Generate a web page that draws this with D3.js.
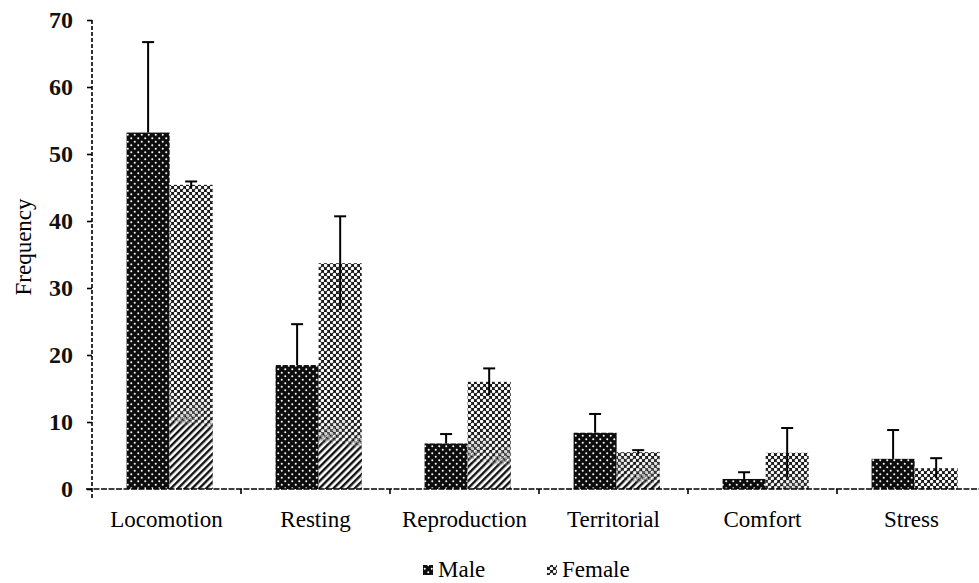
<!DOCTYPE html>
<html>
<head>
<meta charset="utf-8">
<script src="https://cdn.jsdelivr.net/npm/d3@7"></script>
<style>
body { margin: 0; background: #fff; }
svg, svg text { font-family: "Liberation Serif", "Times New Roman", serif; }
svg { display: block; }
</style>
</head>
<body>
<div class="behaviour-chart"></div>
<script>
const categories = ['Locomotion', 'Resting', 'Reproduction', 'Territorial', 'Comfort', 'Stress'];
const series = ['Male', 'Female'];
const maleValues = [53.2, 18.5, 6.8, 8.4, 1.5, 4.5];
const maleErrors = [13.5, 6.1, 1.4, 2.8, 1.0, 4.3];
const femaleValues = [45.4, 33.7, 16.0, 5.5, 5.4, 3.1];
const femaleErrors = [0.5, 7.0, 2.0, 0.3, 3.7, 1.5];
const yTicks = [0, 10, 20, 30, 40, 50, 60, 70];

const w = 979;
const h = 583;

const rows = [];
categories.forEach((c, i) => {
  rows.push({cat: c, key: 'Male', value: maleValues[i], err: maleErrors[i]});
  rows.push({cat: c, key: 'Female', value: femaleValues[i], err: femaleErrors[i]});
});

const svg = d3.select('.behaviour-chart')
  .append('svg')
  .attr('width', w)
  .attr('height', h);

const defs = svg.append('defs');

// dark dotted fill for males
const pm = defs.append('pattern')
  .attr('id', 'male-fill')
  .attr('patternUnits', 'userSpaceOnUse')
  .attr('width', 7).attr('height', 7);
pm.append('rect').attr('width', 7).attr('height', 7).attr('fill', '#0d0d0d');
pm.append('circle').attr('cx', 1.75).attr('cy', 1.75).attr('r', 1).attr('fill', '#fff');
pm.append('circle').attr('cx', 5.25).attr('cy', 5.25).attr('r', 1).attr('fill', '#fff');

// lighter checked fill for females
const pf = defs.append('pattern')
  .attr('id', 'female-fill')
  .attr('patternUnits', 'userSpaceOnUse')
  .attr('width', 6).attr('height', 6);
pf.append('rect').attr('width', 6).attr('height', 6).attr('fill', '#1a1a1a');
pf.append('circle').attr('cx', 1.5).attr('cy', 1.5).attr('r', 1.75).attr('fill', '#fff');
pf.append('circle').attr('cx', 4.5).attr('cy', 4.5).attr('r', 1.75).attr('fill', '#fff');

// diagonal hatch that shows in the lower part of the female bars
const ph = defs.append('pattern')
  .attr('id', 'hatch')
  .attr('patternUnits', 'userSpaceOnUse')
  .attr('width', 5).attr('height', 5)
  .attr('patternTransform', 'rotate(45)');
ph.append('rect').attr('width', 5).attr('height', 5).attr('fill', '#fff');
ph.append('rect').attr('width', 2.4).attr('height', 5).attr('fill', '#111');

const grad = defs.append('linearGradient')
  .attr('id', 'hatch-grad')
  .attr('gradientUnits', 'userSpaceOnUse')
  .attr('x1', 200).attr('y1', 395)
  .attr('x2', 186).attr('y2', 505);
grad.append('stop').attr('offset', 0).attr('stop-color', '#fff').attr('stop-opacity', 0);
grad.append('stop').attr('offset', 0.2).attr('stop-color', '#fff').attr('stop-opacity', 0.3);
grad.append('stop').attr('offset', 0.3).attr('stop-color', '#fff').attr('stop-opacity', 1);
grad.append('stop').attr('offset', 1).attr('stop-color', '#fff').attr('stop-opacity', 1);
defs.append('mask').attr('id', 'hatch-mask')
  .attr('maskUnits', 'userSpaceOnUse')
  .attr('x', 0).attr('y', 0).attr('width', w).attr('height', h)
  .append('rect').attr('width', w).attr('height', h).attr('fill', 'url(#hatch-grad)');

const x0 = d3.scaleBand().domain(categories).range([92, 986]).padding(0);
const x1 = d3.scaleBand().domain(series).range([0, x0.bandwidth()])
  .paddingInner(0).paddingOuter(0.73).align(0.55);
const y = d3.scaleLinear().domain([0, 70]).range([489, 20]);

const fills = {Male: 'url(#male-fill)', Female: 'url(#female-fill)'};
const cx = d => x0(d.cat) + x1(d.key) + x1.bandwidth() / 2;

// bars
svg.append('g').selectAll('rect')
  .data(rows)
  .enter()
  .append('rect')
  .attr('x', d => x0(d.cat) + x1(d.key))
  .attr('y', d => y(d.value))
  .attr('width', x1.bandwidth())
  .attr('height', d => y(0) - y(d.value))
  .attr('fill', d => fills[d.key]);

svg.append('g').attr('mask', 'url(#hatch-mask)')
  .selectAll('rect')
  .data(rows.filter(d => d.key == 'Female'))
  .enter()
  .append('rect')
  .attr('x', d => x0(d.cat) + x1(d.key))
  .attr('y', d => y(d.value))
  .attr('width', x1.bandwidth())
  .attr('height', d => y(0) - y(d.value))
  .attr('fill', 'url(#hatch)');

// error bars (lower half only shows through the lighter female fill)
const eb = svg.append('g').attr('stroke', '#000').attr('stroke-width', 2);
eb.selectAll('line.err')
  .data(rows)
  .enter()
  .append('line')
  .attr('class', 'err')
  .attr('x1', cx)
  .attr('x2', cx)
  .attr('y1', d => d.key == 'Female' ? y(Math.max(0, d.value - d.err)) : y(d.value))
  .attr('y2', d => y(d.value + d.err));
eb.selectAll('line.cap')
  .data(rows)
  .enter()
  .append('line')
  .attr('class', 'cap')
  .attr('x1', d => cx(d) - 6)
  .attr('x2', d => cx(d) + 6)
  .attr('y1', d => y(d.value + d.err))
  .attr('y2', d => y(d.value + d.err));

// y axis
const yAxis = svg.append('g')
  .attr('transform', 'translate(92,0)')
  .call(d3.axisLeft(y).tickValues(yTicks).tickSize(5).tickSizeOuter(0).tickPadding(14));
yAxis.attr('font-family', null);
yAxis.select('.domain')
  .attr('d', `M0,${y(70)}V${y(0) + 10}`)
  .attr('stroke-width', 1.6)
  .attr('stroke-dasharray', '4,2');
yAxis.selectAll('.tick line').attr('stroke-width', 1.6);
yAxis.selectAll('.tick text')
  .attr('font-size', 24)
  .attr('font-weight', 'bold')
  .attr('fill', '#111');

// x axis
const xAxis = svg.append('g')
  .attr('transform', `translate(0,${y(0)})`)
  .call(d3.axisBottom(x0).tickSize(0).tickPadding(22));
xAxis.attr('font-family', null);
xAxis.select('.domain')
  .attr('d', `M86,0H${w}`)
  .attr('stroke-width', 1.6)
  .attr('stroke-dasharray', '6,1.5');
xAxis.selectAll('.tick text')
  .attr('font-size', 23)
  .attr('fill', '#000');
xAxis.selectAll('line.bound')
  .data(categories.slice(1))
  .enter()
  .append('line')
  .attr('class', 'bound')
  .attr('x1', d => x0(d)).attr('x2', d => x0(d))
  .attr('y1', 0).attr('y2', 5)
  .attr('stroke', '#000')
  .attr('stroke-width', 1.6);

// y label
svg.append('text')
  .attr('transform', 'translate(31,247) rotate(-90)')
  .attr('text-anchor', 'middle')
  .attr('font-size', 23)
  .text('Frequency');

// legend
const legendX = {Male: 423, Female: 547};
const lg = svg.append('g').selectAll('g')
  .data(series)
  .enter()
  .append('g')
  .attr('transform', d => `translate(${legendX[d]},0)`);
lg.append('rect')
  .attr('x', 0).attr('y', 565)
  .attr('width', 10).attr('height', 10)
  .attr('fill', d => fills[d]);
lg.append('text')
  .attr('x', 15).attr('y', 577)
  .attr('font-size', 23)
  .text(d => d);
</script>
</body>
</html>
